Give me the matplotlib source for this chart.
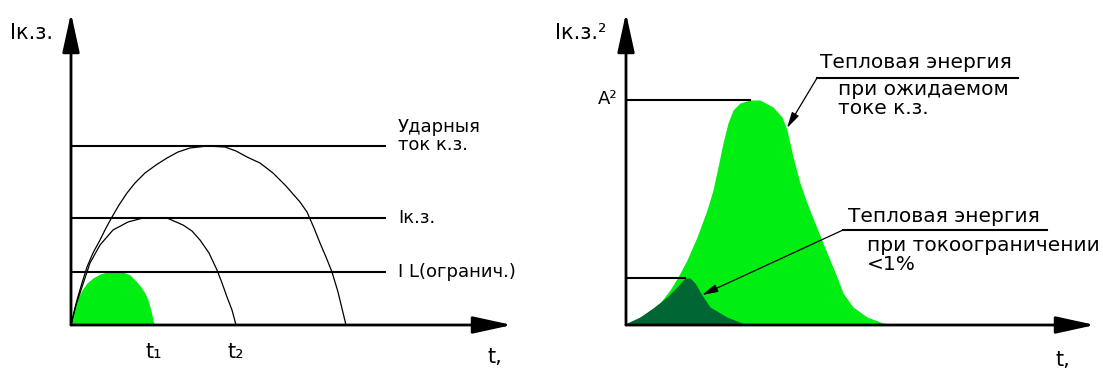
import numpy as np
import matplotlib.pyplot as plt

# left diagram: current vs time (x = time, y = current, units)
udar_t = [0, 3, 6, 11, 16, 22, 29, 35, 41, 48, 56, 64, 74, 85, 96, 107, 119, 136, 154, 165,
          176, 189, 202, 215, 229, 236, 243, 249, 255, 261, 267, 275]
udar_i = [0, 13, 25, 42, 58, 72, 85, 97, 108, 120, 132, 142, 152, 160, 167, 173, 177, 179, 178,
          174, 168, 162, 152, 139, 123, 113, 97, 82, 68, 53, 33, 0]
kz_t = [0, 5, 11, 19, 29, 42, 57, 72, 96, 112, 121, 129, 138, 146, 151, 156, 161, 165]
kz_i = [0, 20, 38, 62, 80, 95, 103, 107, 107, 100, 94, 85, 72, 55, 42, 28, 15, 0]
lim_t = [0, 2, 4, 7, 11, 16, 22, 29, 36, 52, 59, 66, 70, 74, 77, 79, 81, 83]
lim_i = [0, 10, 18, 27, 35, 42, 47, 51, 53, 53, 50, 43, 38, 32, 25, 18, 10, 0]
levels = [179, 107, 53]
level_labels = ["Ударныя\nток к.з.", "Iк.з.", "I L(огранич.)"]
t_marks = [83, 165]
t_labels = ["t₁", "t₂"]

# right diagram: I^2 vs time
full_t = [0, 4, 21, 34, 44, 52, 61, 71, 81, 87, 92, 97, 102, 107, 114, 124, 134, 147, 156, 161,
          167, 174, 181, 189, 197, 204, 211, 217, 227, 241, 257, 264]
full_e = [0, 2, 12, 22, 35, 48, 65, 88, 115, 135, 158, 182, 202, 215, 222, 225, 225, 218, 208,
          195, 168, 142, 122, 102, 82, 65, 48, 32, 18, 8, 2, 0]
ltd_t = [0, 1, 14, 27, 41, 51, 59, 64, 69, 76, 84, 101, 121]
ltd_e = [0, 2, 8, 17, 28, 38, 47, 47, 42, 30, 18, 8, 0]

green = '#00ee11'
dark_green = '#006633'
fs = 13
fs_r = 14.5

fig = plt.figure(figsize=(11.03, 3.70), dpi=100)
ax1 = fig.add_axes([71/1103, 45/370, 441/1103, 312/370])
ax2 = fig.add_axes([626/1103, 45/370, 469/1103, 312/370])


def draw_axes(ax, xmax, ymax):
    ax.set_xlim(0, xmax)
    ax.set_ylim(0, ymax)
    ax.axis('off')
    arrow = dict(arrowstyle='-|>,head_length=1.6,head_width=0.35', lw=2, color='k',
                 mutation_scale=15, shrinkA=0, shrinkB=0)
    ax.annotate('', xy=(xmax, 0), xytext=(0, 0), arrowprops=arrow, annotation_clip=False)
    ax.annotate('', xy=(0, ymax), xytext=(0, 0), arrowprops=arrow, annotation_clip=False)


draw_axes(ax1, 441, 312)
ax1.fill_between(lim_t, lim_i, color=green, lw=0)
ax1.plot(udar_t, udar_i, color='k', lw=0.9)
ax1.plot(kz_t, kz_i, color='k', lw=0.9)
for lvl, lab in zip(levels, level_labels):
    ax1.plot([0, 314], [lvl, lvl], color='k', lw=1.5)
    ax1.text(327, lvl + (10 if '\n' in lab else 0), lab, fontsize=fs, va='center', ha='left',
             linespacing=1.0)
for tm, lab in zip(t_marks, t_labels):
    ax1.text(tm, -27, lab, fontsize=fs + 2, ha='center', va='center')
ax1.text(-61, 292, "Iк.з.", fontsize=fs + 2, va='center', ha='left')
ax1.text(416, -32, "t,", fontsize=fs + 2, va='center', ha='left')

draw_axes(ax2, 469, 312)
ax2.fill_between(full_t, full_e, color=green, lw=0)
ax2.fill_between(ltd_t, ltd_e, color=dark_green, lw=0)
ax2.plot([0, full_t[int(np.argmax(full_e))]], [max(full_e)] * 2, color='k', lw=1.5)
ax2.plot([0, ltd_t[int(np.argmax(ltd_e))]], [max(ltd_e)] * 2, color='k', lw=1.5)
ax2.text(-71, 292, "Iк.з.²", fontsize=fs + 2, va='center', ha='left')
ax2.text(-28, 226, "A²", fontsize=fs, va='center', ha='left')
ax2.text(429, -35, "t,", fontsize=fs + 2, va='center', ha='left')

lead = dict(arrowstyle='-|>,head_length=0.8,head_width=0.2', lw=0.9, color='k',
            mutation_scale=12, shrinkA=0, shrinkB=0)
ax2.plot([191, 392], [247, 247], color='k', lw=1.5)
ax2.annotate('', xy=(161, 197), xytext=(191, 247), arrowprops=lead)
ax2.text(194, 263, "Тепловая энергия", fontsize=fs_r, va='center', ha='left')
ax2.text(212, 226, "при ожидаемом\nтоке к.з.", fontsize=fs_r, va='center', ha='left',
         linespacing=1.05)
ax2.plot([217, 421], [95, 95], color='k', lw=1.5)
ax2.annotate('', xy=(76, 30), xytext=(217, 95), arrowprops=lead)
ax2.text(222, 109, "Тепловая энергия", fontsize=fs_r, va='center', ha='left')
ax2.text(241, 70, "при токоограничении\n<1%", fontsize=fs_r, va='center', ha='left',
         linespacing=1.05)

fig.savefig('out.png', dpi=100)
